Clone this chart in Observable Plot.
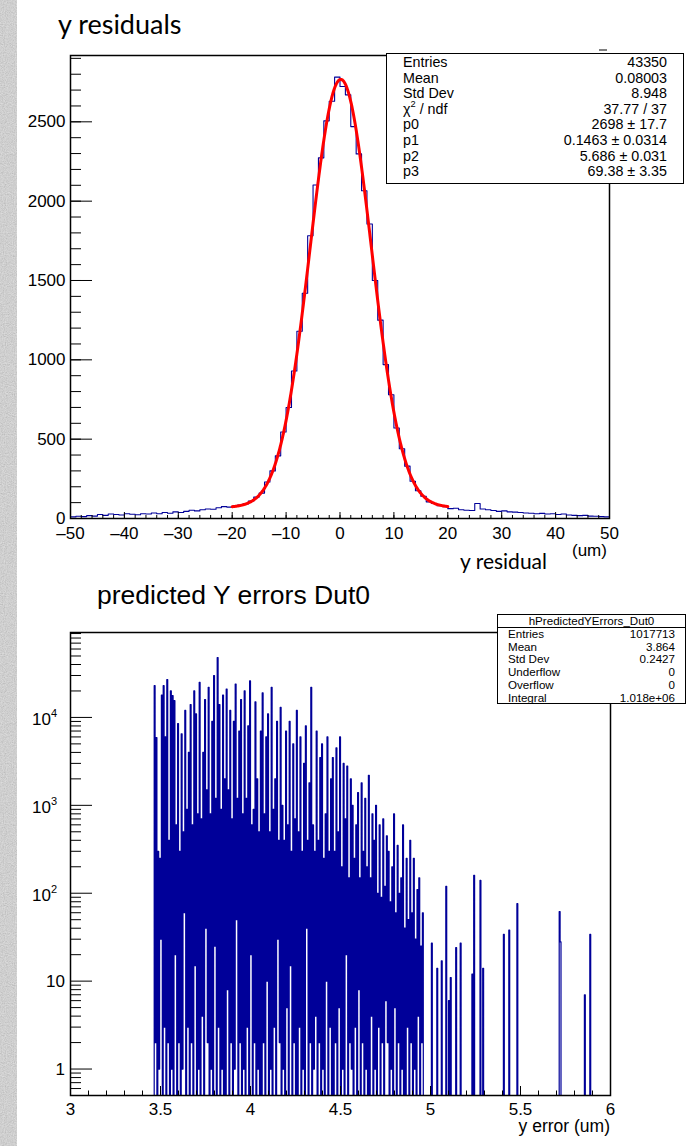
<!DOCTYPE html>
<html><head><meta charset="utf-8">
<script src="https://cdn.jsdelivr.net/npm/d3@7"></script>
<script src="https://cdn.jsdelivr.net/npm/@observablehq/plot@0.6"></script>
<style>
html,body{margin:0;padding:0;background:#fff}
body{width:694px;height:1146px;position:relative;overflow:hidden;font-family:"Liberation Sans",Arial,sans-serif;color:#000}
.abs{position:absolute;left:0}
.stat{position:absolute;background:#fff;border:1px solid #000;box-sizing:border-box;font-family:"Liberation Sans",Arial,sans-serif}
.row{display:flex;justify-content:space-between;white-space:nowrap}
sup{font-size:65%;line-height:0;position:relative;top:-0.1em;vertical-align:super}
</style></head><body>
<svg class="abs" style="top:0" width="17" height="1146">
  <filter id="n"><feTurbulence type="fractalNoise" baseFrequency="0.9" numOctaves="2" seed="3"/><feColorMatrix type="saturate" values="0"/><feComponentTransfer><feFuncA type="table" tableValues="0.35 0.35"/></feComponentTransfer></filter>
  <rect width="17" height="1146" fill="#d9d9d9"/>
  <rect width="17" height="1146" filter="url(#n)"/>
</svg>
<div id="top" class="abs" style="top:0"></div>
<div id="bot" class="abs" style="top:600px"></div>
<div id="stat1" class="stat" style="left:386px;top:53px;width:298px;height:131px;padding:1px 16px 0 16px;font-size:14.3px;line-height:15.6px"></div>
<div id="stat2" class="stat" style="left:497px;top:614px;width:189px;height:90px;font-size:11.6px;line-height:12.7px"></div>
<svg id="ov" class="abs" style="top:0;pointer-events:none" width="694" height="1146"></svg>
<script>
// ---------- top panel: y residuals (bins of width 1 from -50 to 50) ----------
const resLow = -50;
const resWidth = 1;
const resCounts = [
  10, 14, 12, 18, 15, 25, 20, 28, 25, 22,
  30, 27, 24, 30, 28, 35, 30, 38, 33, 42,
  38, 45, 52, 48, 55, 60, 58, 68, 75, 72,
  78, 85, 92, 110, 135, 160, 230, 300, 395, 545,
  700, 930, 1180, 1420, 1782, 2102, 2273, 2506, 2630, 2782,
  2723, 2670, 2470, 2298, 2066, 1856, 1500, 1250, 970, 780,
  570, 440, 330, 235, 175, 140, 105, 95, 80, 75,
  62, 65, 55, 52, 50, 95, 60, 55, 50, 45,
  48, 42, 40, 38, 35, 33, 30, 32, 28, 30,
  25, 28, 22, 20, 18, 20, 15, 14, 12, 10
];
// fit parameters (gaus + constant) from the stat box
const fitP0 = 2698, fitP1 = 0.1463, fitP2 = 5.686, fitP3 = 69.38;
const fitRange = [-20, 20];
const stat1Labels = ["Entries", "Mean", "Std Dev", "χ<sup>2</sup> / ndf", "p0", "p1", "p2", "p3"];
const stat1Values = ["43350", "0.08003", "8.948", "37.77 / 37", "2698 ± 17.7", "0.1463 ± 0.0314", "5.686 ± 0.031", "69.38 ± 3.35"];
const resXTicks = [-50, -40, -30, -20, -10, 0, 10, 20, 30, 40, 50];
const resYTicks = [0, 500, 1000, 1500, 2000, 2500];

// ---------- bottom panel: predicted Y errors, bins of width 0.005 from 3.46 ----------
const errLow = 3.46;
const errWidth = 0.005;
// odd bins (3.465, 3.475, ...): the populated values
const errPeaks = [
  23000, 5900, 300, 250, 18000, 23000, 6000, 27000, 400, 20000,
  17700, 15500, 600, 8500, 300, 6500, 500, 12000, 900, 4000,
  14000, 600, 20000, 11000, 800, 25000, 700, 4000, 16000, 1500,
  22000, 800, 9000, 30000, 1200, 48000, 14000, 900, 18000, 2000,
  21000, 1500, 12000, 700, 9000, 24000, 1200, 7000, 16000, 800,
  20000, 1200, 8000, 26000, 600, 900, 15000, 2000, 500, 7000,
  19000, 800, 6000, 11000, 500, 22000, 900, 2000, 9000, 400,
  13000, 1000, 400, 7000, 600, 9000, 300, 5000, 700, 12000,
  500, 6000, 300, 3000, 8000, 400, 1800, 22000, 600, 300,
  7000, 400, 3500, 5000, 250, 800, 6000, 300, 2000, 3500,
  300, 4500, 500, 6000, 200, 3000, 700, 2800, 150, 2000,
  1000, 250, 600, 1400, 150, 1800, 300, 1200, 200, 2200,
  150, 800, 400, 1000, 100, 600, 90, 700, 120, 450,
  300, 80, 200, 800, 60, 350, 100, 150, 600, 40,
  250, 50, 400, 60, 250, 30, 110, 150, 25, 60
];
// even bins (3.460, 3.470, ...): mostly empty, a few small counts
const errGaps = [
  0, 2, 0, 1, 30, 0, 3, 0, 2, 0,
  1, 0, 20, 0, 2, 0, 1, 60, 0, 3,
  0, 2, 0, 15, 0, 1, 0, 4, 0, 40,
  2, 0, 1, 0, 25, 0, 3, 0, 1, 0,
  0, 8, 0, 2, 0, 1, 50, 0, 2, 0,
  1, 0, 3, 0, 20, 0, 2, 0, 1, 0,
  0, 2, 0, 10, 0, 1, 0, 3, 0, 30,
  2, 0, 1, 0, 5, 0, 15, 0, 2, 0,
  0, 3, 0, 1, 0, 40, 0, 2, 0, 1,
  4, 0, 2, 0, 1, 0, 10, 0, 3, 0,
  0, 2, 0, 5, 0, 1, 0, 20, 0, 2,
  1, 0, 3, 0, 8, 0, 2, 0, 1, 0,
  0, 4, 0, 1, 0, 3, 0, 2, 0, 6,
  2, 0, 1, 0, 5, 0, 2, 0, 1, 0,
  0, 3, 0, 2, 0, 1, 0, 4, 0, 2
];
const errTailX = [5.005, 5.035, 5.06, 5.085, 5.1, 5.11, 5.14, 5.165, 5.23, 5.24, 5.275, 5.29, 5.405, 5.435, 5.48, 5.715, 5.72, 5.855, 5.885];
const errTailN = [27, 14, 17, 120, 6, 11, 24, 27, 12, 160, 140, 14, 34, 38, 76, 62, 28, 7, 34];
const errHigh = 6.0;
const stat2Title = "hPredictedYErrors_Dut0";
const stat2Labels = ["Entries", "Mean", "Std Dev", "Underflow", "Overflow", "Integral"];
const stat2Values = ["1017713", "3.864", "0.2427", "0", "0", "1.018e+06"];
const errXTicks = [3, 3.5, 4, 4.5, 5, 5.5, 6];
const errYTicks = [1, 10, 100, 1000, 10000];

// ---------- build top panel ----------
const resData = resCounts.map((c, i) => ({x: resLow + i * resWidth, y: c}));
resData.push({x: resLow + resCounts.length * resWidth, y: resCounts[resCounts.length - 1]});
const fitData = d3.range(fitRange[0], fitRange[1] + 0.001, 0.1).map(x => ({x, y: fitP0 * Math.exp(-0.5 * ((x - fitP1) / fitP2) ** 2) + fitP3}));
const fontFam = "'Liberation Sans', Arial, sans-serif";
const blank = () => "";
const minusFmt = d => d < 0 ? "\u2013" + (-d) : String(d);

const topPlot = Plot.plot({
  width: 694, height: 580,
  marginLeft: 70, marginRight: 85, marginTop: 55, marginBottom: 62,
  style: {fontFamily: fontFam, background: "transparent", color: "#000"},
  x: {domain: [-50, 50]},
  y: {domain: [0, 2918]},
  marks: [
    Plot.line(resData, {x: "x", y: "y", curve: "step-after", stroke: "#000099", strokeWidth: 1.1, clip: true}),
    Plot.line(fitData, {x: "x", y: "y", stroke: "#ff0000", strokeWidth: 3, clip: true}),
    Plot.axisX(d3.range(-50, 51, 2), {tickSize: -3, tickFormat: blank, label: null, strokeWidth: 1}),
    Plot.axisX(resXTicks, {tickSize: -6, tickFormat: blank, label: null, strokeWidth: 1}),
    Plot.axisX(resXTicks, {tickSize: 0, tickPadding: 8, tickFormat: minusFmt, fontSize: 17, label: null}),
    Plot.axisY(d3.range(0, 2901, 100), {tickSize: -11, tickFormat: blank, label: null, strokeWidth: 1}),
    Plot.axisY(resYTicks, {tickSize: -22, tickFormat: blank, label: null, strokeWidth: 1}),
    Plot.axisY(resYTicks, {tickSize: 0, tickPadding: 5, fontSize: 17, tickFormat: d => String(d), label: null}),
    Plot.frame({stroke: "#000", strokeWidth: 1.5})
  ]
});
document.getElementById("top").appendChild(topPlot);

// ---------- build bottom panel ----------
const nErr = Math.round((errHigh - errLow) / errWidth);
const errCounts = new Array(nErr).fill(0);
errGaps.forEach((c, k) => { errCounts[2 * k] = c; });
errPeaks.forEach((c, k) => { errCounts[2 * k + 1] = c; });
errTailX.forEach((x, k) => { errCounts[Math.round((x - errLow) / errWidth)] = errTailN[k]; });
const floorVal = 0.1; // empty bins drawn below the visible range, as ROOT does on log axes
const errData = [{x: errLow - errWidth, y: floorVal}].concat(errCounts.map((c, i) => ({x: errLow + i * errWidth, y: c > 0 ? c : floorVal})));
errData.push({x: errHigh, y: floorVal});

const logMinor = [];
[0.1, 1, 10, 100, 1000, 10000].forEach(p => { for (let m = 2; m <= 9; m++) { const v = m * p; if (v >= 0.5 && v <= 92000) logMinor.push(v); } });

const botPlot = Plot.plot({
  width: 694, height: 546,
  marginLeft: 70, marginRight: 84, marginTop: 32, marginBottom: 51,
  style: {fontFamily: fontFam, background: "transparent", color: "#000"},
  x: {domain: [3, 6]},
  y: {type: "log", domain: [0.5, 92500]},
  marks: [
    Plot.line(errData, {x: "x", y: "y", curve: "step-after", stroke: "#000099", strokeWidth: 1.2, clip: true}),
    Plot.axisX(d3.range(3, 6.001, 0.1), {tickSize: -4.5, tickFormat: blank, label: null, strokeWidth: 1}),
    Plot.axisX(errXTicks, {tickSize: -9, tickFormat: blank, label: null, strokeWidth: 1}),
    Plot.axisX(errXTicks, {tickSize: 0, tickPadding: 7, fontSize: 17, tickFormat: d => String(d), label: null}),
    Plot.axisY(logMinor, {tickSize: -11, tickFormat: blank, label: null, strokeWidth: 1}),
    Plot.axisY(errYTicks, {tickSize: -22, tickFormat: blank, label: null, strokeWidth: 1}),
    Plot.frame({stroke: "#000", strokeWidth: 1.5})
  ]
});
document.getElementById("bot").appendChild(botPlot);

// ---------- stat boxes ----------
const s1 = document.getElementById("stat1");
stat1Labels.forEach((l, i) => {
  const r = document.createElement("div"); r.className = "row";
  r.innerHTML = `<span>${l}</span><span>${stat1Values[i]}</span>`;
  s1.appendChild(r);
});
const s2 = document.getElementById("stat2");
const t2 = document.createElement("div");
t2.style.cssText = "text-align:center;border-bottom:1px solid #000;height:12px;line-height:12px;margin-top:0px";
t2.textContent = stat2Title; s2.appendChild(t2);
stat2Labels.forEach((l, i) => {
  const r = document.createElement("div"); r.className = "row";
  r.style.padding = "0 10px 0 10px";
  r.innerHTML = `<span>${l}</span><span>${stat2Values[i]}</span>`;
  s2.appendChild(r);
});

// ---------- overlay texts ----------
const ov = d3.select("#ov");
function txt(x, y, s, size, fam, anchor) {
  return ov.append("text").attr("x", x).attr("y", y).attr("font-size", size).attr("font-family", fam).attr("text-anchor", anchor || "start").attr("fill", "#000").text(s);
}
txt(58, 34, "y residuals", 27, "Lato, 'Open Sans', sans-serif");
txt(460, 569, "y residual", 21, "Lato, 'Open Sans', sans-serif");
txt(572, 556, "(um)", 17, fontFam);
txt(97, 604, "predicted Y errors Dut0", 26.5, fontFam);
txt(610, 1132, "y error (um)", 17.5, fontFam, "end");
ov.append("line").attr("x1", 599).attr("x2", 607).attr("y1", 50).attr("y2", 50).attr("stroke", "#000").attr("stroke-width", 1);

// log-axis labels for the bottom panel, positioned with the plot's y scale
const ys = botPlot.scale("y");
errYTicks.forEach(v => {
  const py = 600 + ys.apply(v);
  const e = Math.round(Math.log10(v));
  if (e <= 1) {
    txt(65, py + 6.5, String(v), 17, fontFam, "end");
  } else {
    const t = ov.append("text").attr("x", 57).attr("y", py + 8).attr("font-size", 17).attr("font-family", fontFam).attr("text-anchor", "end").attr("fill", "#000");
    t.append("tspan").text("10");
    t.append("tspan").attr("font-size", 11).attr("dy", -8).text(String(e));
  }
});
</script>
</body></html>
